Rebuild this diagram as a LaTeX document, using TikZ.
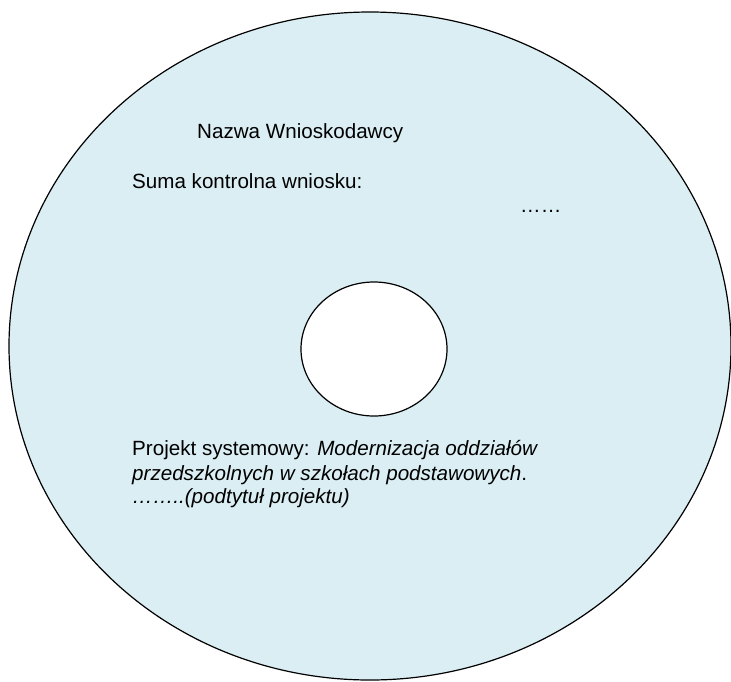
\documentclass[tikz,border=0pt]{standalone}
\usepackage{fontspec}
\setmainfont{Liberation Sans}
\usetikzlibrary{shapes.geometric}
\definecolor{discblue}{HTML}{DAEEF3}
\begin{document}
\begin{tikzpicture}[x=1pt,y=-1pt]
\tikzstyle{disc} = [ellipse, draw=black, line width=1.2pt, fill=discblue, inner sep=0pt]
\tikzstyle{hole} = [ellipse, draw=black, line width=1.2pt, fill=white, inner sep=0pt]
\tikzstyle{label} = [anchor=base west, inner sep=0pt, font=\fontsize{20.6}{24}\selectfont]
\useasboundingbox (0,0) rectangle (731,681);
% disc and centre hole
\node [disc, minimum width=722pt, minimum height=668pt] (disc) at (370,346) {};
\node [hole, minimum width=146pt, minimum height=134pt] (centre) at (374,349) {};
% upper texts
\node [label] (name) at (197,138) {Nazwa Wnioskodawcy};
\node [label] (checksum) at (132,188) {Suma kontrolna wniosku:};
\node [label] (dots) at (520,212) {……};
% project title
\node [label] (proj1) at (132,455) {Projekt systemowy: \textit{Modernizacja oddziałów}};
\node [label] (proj2) at (132,480) {\textit{przedszkolnych w szkołach podstawowych}.};
\node [label] (proj3) at (132,503) {\textit{……..(podtytuł projektu)}};
\end{tikzpicture}
\end{document}
